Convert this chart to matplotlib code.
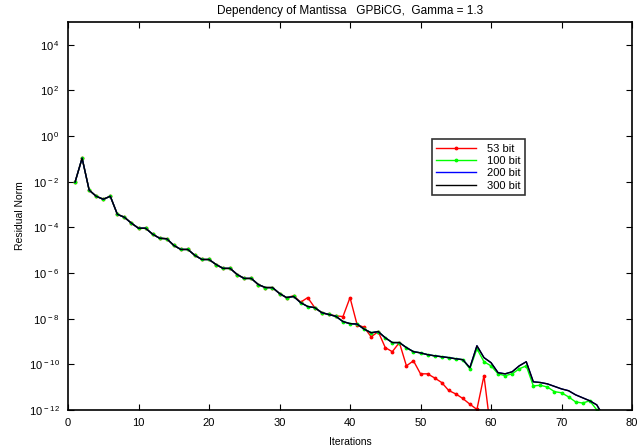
import numpy as np
import matplotlib
matplotlib.use("Agg")
import matplotlib.pyplot as plt
from matplotlib.ticker import FixedLocator, FuncFormatter, NullLocator

plt.rcParams['font.family'] = ['Liberation Sans', 'DejaVu Sans']
plt.rcParams['mathtext.fontset'] = 'custom'
plt.rcParams['mathtext.rm'] = 'Liberation Sans'
plt.rcParams['mathtext.it'] = 'Liberation Sans'

# log10 of residual norm
common = [-2.02, -0.97, -2.37, -2.64, -2.77, -2.64, -3.43, -3.56, -3.82, -4.04,
          -4.04, -4.30, -4.48, -4.50, -4.79, -4.97, -4.97, -5.23, -5.41, -5.41,
          -5.63, -5.80, -5.80, -6.07, -6.24, -6.24, -6.51, -6.64, -6.64, -6.90,
          -7.08]

log_300 = common + [-7.03, -7.30, -7.47, -7.52, -7.74, -7.82, -7.90, -8.13, -8.22,
                    -8.24, -8.46, -8.62, -8.57, -8.84, -9.05, -9.05, -9.27, -9.45, -9.50,
                    -9.58, -9.63, -9.67, -9.71, -9.76, -9.80, -10.15, -9.19, -9.71, -9.93,
                    -10.37, -10.42, -10.33, -10.07, -9.89, -10.77, -10.80, -10.86, -10.97, -11.08,
                    -11.16, -11.34, -11.47, -11.60, -11.78, -12.30]
log_200 = list(log_300)
log_100 = common + [-7.03, -7.30, -7.47, -7.52, -7.74, -7.82, -7.90, -8.13, -8.22,
                    -8.24, -8.46, -8.62, -8.57, -8.84, -9.05, -9.05, -9.27, -9.45, -9.50,
                    -9.58, -9.63, -9.67, -9.71, -9.76, -9.80, -10.20, -9.32, -9.89, -10.07,
                    -10.42, -10.50, -10.42, -10.20, -10.07, -10.95, -10.92, -11.00, -11.20, -11.25,
                    -11.43, -11.65, -11.70, -11.60, -12.00]
log_53 = common + [-7.00, -7.28, -7.08, -7.52, -7.74, -7.82, -7.88, -7.91, -7.08,
                   -8.26, -8.38, -8.80, -8.57, -9.27, -9.45, -9.05, -10.07, -9.85, -10.42,
                   -10.42, -10.60, -10.80, -11.15, -11.30, -11.50, -11.75, -11.98, -10.50, -13.00]

series = [
    ("53 bit", log_53, 'red', '.'),
    ("100 bit", log_100, '#00ff00', '.'),
    ("200 bit", log_200, 'blue', None),
    ("300 bit", log_300, 'black', None),
]

fig = plt.figure(figsize=(6.44, 4.47), dpi=100)
ax = fig.add_axes([0.1056, 0.083, 0.8758, 0.868])

for name, vals, col, mk in series:
    it = np.arange(1, len(vals) + 1)
    ax.semilogy(it, 10.0 ** np.array(vals), color=col, lw=1.0, marker=mk,
                markersize=3.5, label=name)

ax.set_xlim(0, 80)
ax.set_ylim(1e-12, 1e5)
ax.xaxis.set_major_locator(FixedLocator(range(0, 81, 10)))
ax.yaxis.set_major_locator(FixedLocator([10.0 ** e for e in range(-12, 5, 2)]))
ax.yaxis.set_minor_locator(NullLocator())
ax.yaxis.set_major_formatter(FuncFormatter(
    lambda v, p: r'$10^{\,%d}$' % int(round(np.log10(v)))))
ax.tick_params(direction='in', top=True, right=True, labelsize=8, length=4)
ax.tick_params(axis='y', pad=6)
ax.tick_params(axis='x', pad=6)
for s in ax.spines.values():
    s.set_linewidth(1.2)

ax.set_title("Dependency of Mantissa   GPBiCG,  Gamma = 1.3", fontsize=8.5, pad=6)
ax.set_xlabel("Iterations", fontsize=7.5, labelpad=6)
ax.set_ylabel("Residual Norm", fontsize=7.5, labelpad=3)

leg = ax.legend(loc='lower left', bbox_to_anchor=(0.645, 0.554), fontsize=8,
                frameon=True, fancybox=False, handlelength=3.6, borderpad=0.4,
                labelspacing=0.2, handletextpad=1.0, borderaxespad=0)
leg.get_frame().set_edgecolor('black')
leg.get_frame().set_linewidth(1.2)

fig.savefig("out.png", dpi=100)
